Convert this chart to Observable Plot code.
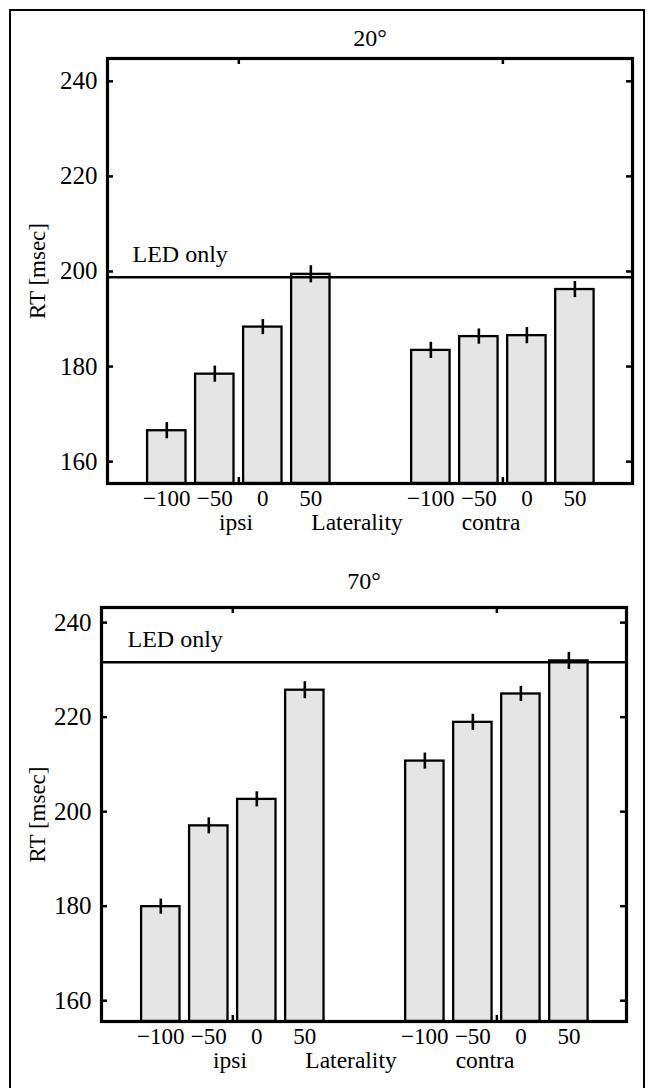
<!DOCTYPE html>
<html><head><meta charset="utf-8">
<script src="https://cdn.jsdelivr.net/npm/d3@7"></script>
<script src="https://cdn.jsdelivr.net/npm/@observablehq/plot@0.6"></script>
<style>
html,body{margin:0;padding:0;background:#fff;}
#page{position:relative;width:651px;height:1088px;overflow:hidden;}
#border{position:absolute;left:9px;top:9px;width:636px;height:1200px;border:2.5px solid #000;box-sizing:border-box;}
.panel{position:absolute;left:0;}
</style></head><body>
<div id="page"><div id="border"></div><div id="p1" class="panel" style="top:0px"></div><div id="p2" class="panel" style="top:540px"></div></div>
<script>
// ---- data ----
const laterality = ["\u2212100", "\u221250", "0", "50", "\u2212100", "\u221250", "0", "50"];
const side = ["ipsi", "ipsi", "ipsi", "ipsi", "contra", "contra", "contra", "contra"];
const barPos = [1, 2, 3, 4, 6.5, 7.5, 8.5, 9.5];
const rt20 = [166.5, 178.4, 188.3, 199.4, 183.4, 186.3, 186.5, 196.2];
const err20 = [1.7, 1.7, 1.6, 1.8, 1.7, 1.6, 1.7, 1.7];
const rt70 = [179.9, 197.0, 202.6, 225.7, 210.7, 218.9, 224.9, 231.9];
const err70 = [1.6, 1.7, 1.6, 1.8, 1.7, 1.7, 1.6, 1.8];
const ledOnly = [198.8, 231.6];
const yTicks = [160, 180, 200, 220, 240];
const titles = ["20\u00b0", "70\u00b0"];
const xLabelWords = ["ipsi", "Laterality", "contra"];
const yLabel = "RT [msec]";
const ledLabel = "LED only";

const groupTicks = [d3.mean([barPos[1], barPos[2]]), d3.mean([barPos[5], barPos[6]])];
const xDomain = [-0.235, 10.7];
// horizontal offsets of the three x-label words from the frame centre (one centred, space-padded label)
const xLabelDx = [-134, -13, 121];

function panel(el, {rt, err, led, title, yDomain, height, mt, mb, ml, mr, titleDy, ylabDx, ledDx}) {
  const data = barPos.map((p, i) => ({pos: p, lab: laterality[i], side: side[i], v: rt[i], e: err[i]}));
  const fw = 651 - ml - mr, fh = height - mt - mb;
  const chart = Plot.plot({
    width: 651, height,
    marginTop: mt, marginBottom: mb, marginLeft: ml, marginRight: mr,
    x: {domain: xDomain, axis: null},
    y: {domain: yDomain},
    style: {fontFamily: "'Liberation Serif', 'Times New Roman', serif", fontSize: "24px", color: "#000", background: "transparent", overflow: "visible"},
    marks: [
      Plot.rect(data, {x1: d => d.pos - 0.4, x2: d => d.pos + 0.4, y1: d => yDomain[0], y2: "v", fill: "#e5e5e5", stroke: "#000", strokeWidth: 2.3}),
      Plot.ruleX(data, {x: "pos", y1: d => d.v - d.e, y2: d => d.v + d.e, stroke: "#000", strokeWidth: 2.6}),
      Plot.ruleY([led], {y: d => d, stroke: "#000", strokeWidth: 2.5}),
      Plot.text([led], {y: d => d, text: () => ledLabel, frameAnchor: "left", textAnchor: "start", dx: ledDx, dy: -22.6, fontSize: 24}),
      Plot.tickY(yTicks, {y: d => d, insetRight: fw - 6, strokeWidth: 2.5}),
      Plot.tickY(yTicks, {y: d => d, insetLeft: fw - 6, strokeWidth: 2.5}),
      Plot.tickX(groupTicks, {x: d => d, insetBottom: fh - 6, strokeWidth: 2.5}),
      Plot.tickX(groupTicks, {x: d => d, insetTop: fh - 6, strokeWidth: 2.5}),
      Plot.axisY(yTicks, {anchor: "left", tickSize: 0, tickPadding: 10, label: null, fontSize: 25}),
      Plot.frame({stroke: "#000", strokeWidth: 3.2}),
      Plot.text(data, {x: "pos", y: d => yDomain[0], text: "lab", dy: 15.5, fontSize: 23}),
      ...xLabelWords.map((w, i) => Plot.text([w], {frameAnchor: "bottom", textAnchor: "middle", dx: xLabelDx[i], dy: 46.5, fontSize: 23.5})),
      Plot.text([title], {frameAnchor: "top", dy: titleDy, fontSize: 24}),
      Plot.text([yLabel], {frameAnchor: "left", textAnchor: "middle", rotate: -90, dx: ylabDx, fontSize: 23})
    ]
  });
  document.getElementById(el).appendChild(chart);
}

panel("p1", {rt: rt20, err: err20, led: ledOnly[0], title: titles[0], yDomain: [155.4, 244.8], height: 540, mt: 58, mb: 57, ml: 107, mr: 19, titleDy: -30, ylabDx: -70, ledDx: 25});
panel("p2", {rt: rt70, err: err70, led: ledOnly[1], title: titles[1], yDomain: [155.6, 243.2], height: 548, mt: 67, mb: 67, ml: 101, mr: 25, titleDy: -36, ylabDx: -64, ledDx: 26});
</script>
</body></html>
